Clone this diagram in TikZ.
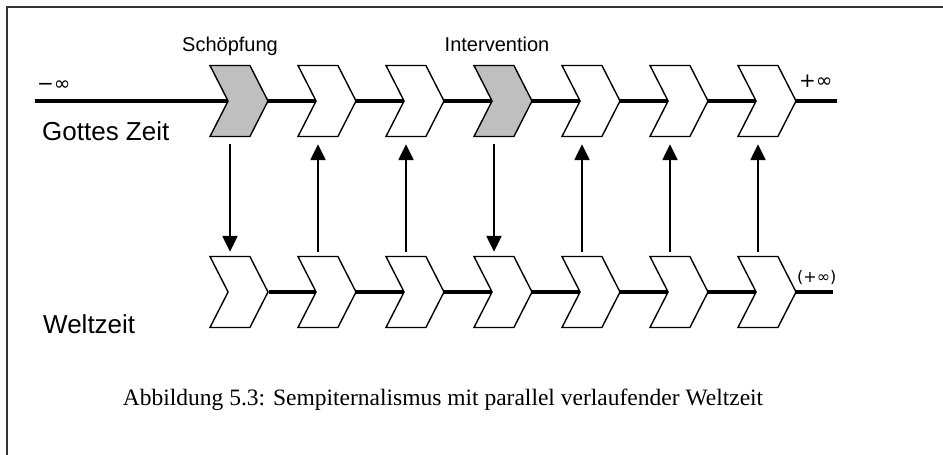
\documentclass[tikz,border=0pt]{standalone}
\usepackage{fontspec}
\setmainfont{Liberation Serif}
\newfontfamily\labelfont{Liberation Sans}
\newfontfamily\symfont{DejaVu Sans}
\usetikzlibrary{shapes.symbols,arrows.meta,backgrounds,positioning}

\tikzset{
  chev/.style={signal, signal from=west, signal to=east, signal pointer angle=126,
    draw, line width=1.4pt, fill=white, minimum width=58pt, minimum height=71pt, inner sep=0pt},
  godchev/.style={chev, fill=black!25},
  timeline/.style={line width=3.5pt},
  lbl/.style={font=\labelfont\fontsize{20}{20}\selectfont, inner sep=0pt},
  biglbl/.style={font=\labelfont\fontsize{26}{26}\selectfont, inner sep=0pt},
  inflbl/.style={font=\symfont\fontsize{20}{20}\selectfont, inner sep=0pt},
  arr/.style={line width=2.4pt, -{Triangle[width=15pt,length=16pt]}},
}

\begin{document}
\begin{tikzpicture}[x=1pt,y=-1pt]
  \useasboundingbox (0,0) rectangle (943,455);
  \draw[line width=2pt, black!80] (7,455) -- (7,7) -- (943,7);

  % Gottes Zeit (oben) und Weltzeit (unten)
  \foreach \i/\s in {1/godchev,2/chev,3/chev,4/godchev,5/chev,6/chev,7/chev} {
    \node[\s] (t\i) at ({239+88*(\i-1)},101) {};
    \node[chev] (b\i) at ({239+88*(\i-1)},292) {};
  }
  \coordinate (gstart) at (35,101);
  \coordinate (gend) at (837,101);
  \coordinate (wend) at (833,292);
  \begin{scope}[on background layer]
    \draw[timeline] (gstart) -- (gend);
    \draw[timeline] (b1.east) -- (wend);
  \end{scope}

  % Pfeile
  \foreach \i in {1,4}
    \draw[arr, shorten <=7pt, shorten >=4pt] ([xshift=-9pt]t\i.south) -- ([xshift=-9pt]b\i.north);
  \foreach \i in {2,3,5,6,7}
    \draw[arr, shorten <=4pt, shorten >=7pt] ([xshift=-9pt]b\i.north) -- ([xshift=-9pt]t\i.south);

  \node[lbl, anchor=base] (schoepf) at (230,51) {Schöpfung};
  \node[lbl, anchor=base] (interv) at (497,51) {Intervention};
  \node[inflbl, anchor=base west] (minf) at (37,90) {−∞};
  \node[inflbl, anchor=base west] (pinf) at (799,87) {+∞};
  \node[inflbl, anchor=base west, font=\symfont\fontsize{16}{16}\selectfont] (pinfw) at (797,282) {(+∞)};
  \node[biglbl, anchor=base west] (gzeit) at (42,140) {Gottes Zeit};
  \node[biglbl, anchor=base west] (wzeit) at (43,333) {Weltzeit};
  \node[anchor=base, font=\fontsize{23.5}{23.5}\selectfont] (caption) at (443,405)
    {Abbildung 5.3: Sempiternalismus mit parallel verlaufender Weltzeit};
\end{tikzpicture}
\end{document}
